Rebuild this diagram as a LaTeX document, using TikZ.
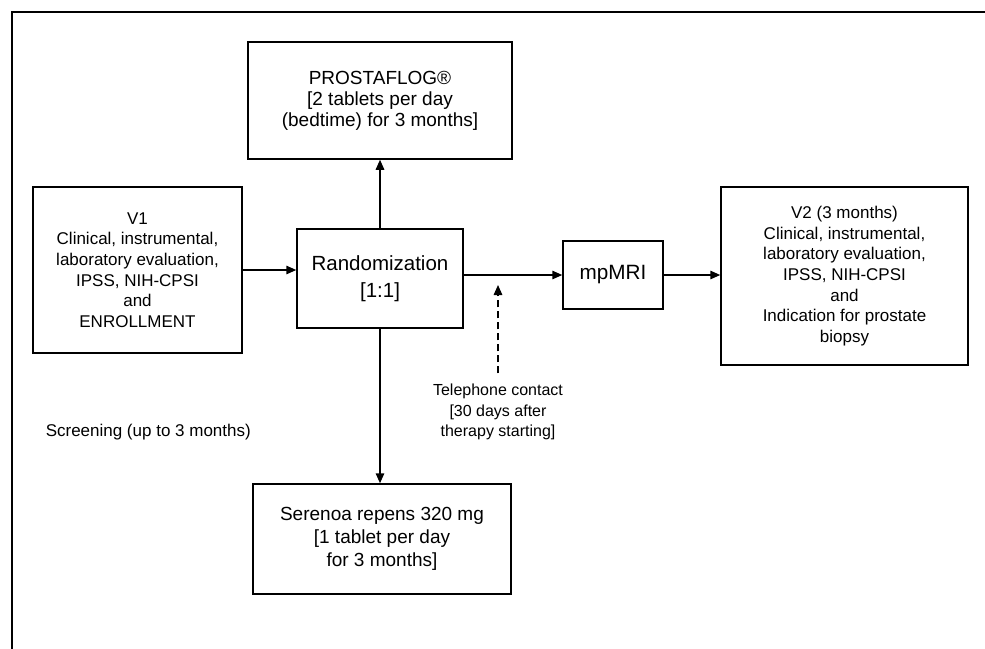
\documentclass[tikz,border=0pt]{standalone}
\usepackage{fontspec}
\setmainfont{Liberation Sans}
\usetikzlibrary{arrows.meta}

\begin{document}
\begin{tikzpicture}[x=1pt,y=-1pt,
        >={Triangle[length=10pt,width=8.5pt]},
        line width=1.5pt,
        box/.style={draw,align=center,inner sep=0pt},
        note/.style={align=center,inner sep=0pt}]
    \useasboundingbox (0,0) rectangle (985,648);
    \draw (12,12) rectangle (1000,670);
    % boxes
    \node[box,minimum width=209pt,minimum height=166pt,
        font=\fontsize{17}{20.6}\selectfont] (v1) at (137.5,270)
        {V1\\Clinical, instrumental,\\laboratory evaluation,\\IPSS, NIH-CPSI\\and\\ENROLLMENT};
    \node[box,minimum width=166pt,minimum height=99pt,
        font=\fontsize{20.5}{26.5}\selectfont] (rand) at (380,278.5)
        {Randomization\\{}[1:1]};
    \node[box,minimum width=264pt,minimum height=117pt,
        font=\fontsize{19}{21}\selectfont] (prost) at (380,100.5)
        {PROSTAFLOG®\\{}[2 tablets per day\\(bedtime) for 3 months]};
    \node[box,minimum width=258pt,minimum height=110pt,
        font=\fontsize{19}{23}\selectfont] (ser) at (382,539)
        {Serenoa repens 320 mg\\{}[1 tablet per day\\for 3 months]};
    \node[box,minimum width=100pt,minimum height=68pt,
        font=\fontsize{20.7}{24}\selectfont] (mp) at (613,275) {mpMRI};
    \node[box,minimum width=247pt,minimum height=178pt,
        font=\fontsize{17}{20.6}\selectfont] (v2) at (844.5,276)
        {V2 (3 months)\\Clinical, instrumental,\\laboratory evaluation,\\IPSS, NIH-CPSI\\and\\Indication for prostate\\biopsy};
    % free texts
    \node[note,font=\fontsize{16}{20.5}\selectfont,inner ysep=10pt] (tel) at (498,412)
        {Telephone contact\\{}[30 days after\\therapy starting]};
    \node[note,anchor=west,font=\fontsize{17}{20}\selectfont] (scr) at (45,432)
        {Screening (up to 3 months)};
    \coordinate (call) at (498,285);
    % connectors
    \draw[->] (v1.east) -- (v1.east -| rand.west);
    \draw[->] (rand.north) -- (prost.south);
    \draw[->] (rand.south) -- (rand.south |- ser.north);
    \draw[->] (rand.east |- mp.west) -- (mp.west);
    \draw[->] (mp.east) -- (mp.east -| v2.west);
    \draw[->,dash pattern=on 7pt off 4pt] (tel.north) -- (call);
\end{tikzpicture}
\end{document}
